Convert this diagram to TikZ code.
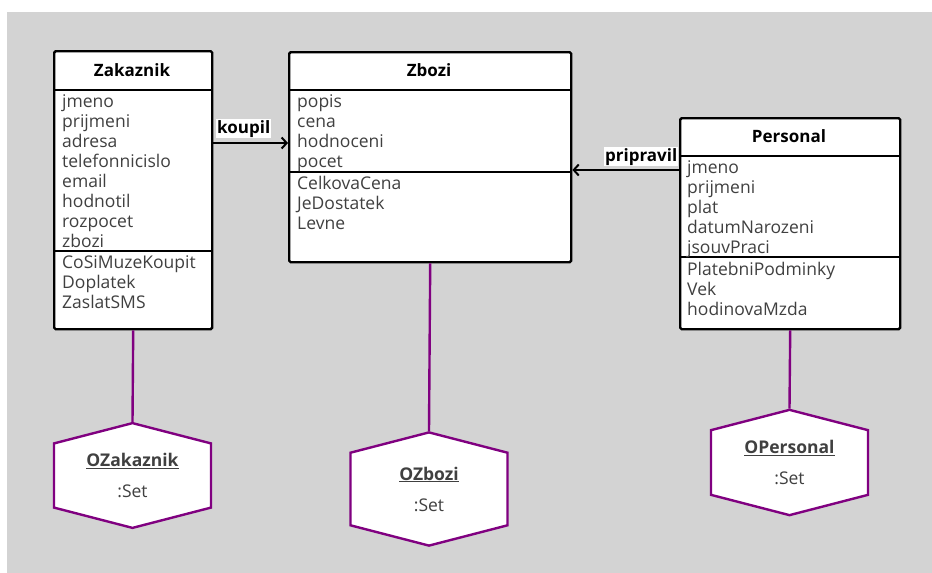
\documentclass[tikz,border=0pt]{standalone}
\usepackage{fontspec}
\setmainfont{Open Sans}
\usepackage{xcolor}
\usetikzlibrary{arrows.meta, calc, shapes.symbols}
\definecolor{bggray}{RGB}{211,211,211}
\definecolor{objpurple}{RGB}{128,0,128}
\definecolor{attrgray}{RGB}{64,64,64}

\begin{document}
\begin{tikzpicture}[x=1pt, y=-1pt,
    every node/.style={font=\fontsize{17.5}{20}\selectfont},
    cls/.style={draw, line width=2.4pt, fill=white, rounded corners=1.5pt,
                anchor=north west, inner sep=0pt},
    ttl/.style={font=\fontsize{17}{20}\selectfont\bfseries},
    attr/.style={anchor=base west, inner sep=0pt, text=attrgray},
    sep/.style={line width=2pt},
    obj/.style={signal, signal to=north and south, signal pointer angle=151,
                draw=objpurple, line width=2.4pt, fill=white,
                minimum width=157pt, minimum height=88pt, inner sep=0pt,
                align=center, text=attrgray},
    link/.style={objpurple, line width=2.4pt},
    assoc/.style={-{Straight Barb[length=5pt, width=11pt]}, line width=2pt},
    lbl/.style={fill=white, inner sep=0.8pt, font=\fontsize{17}{20}\selectfont\bfseries},
  ]
    \useasboundingbox (0,0) rectangle (932,573);
    \fill[bggray] (7,12) rectangle (932,573);
    \node[cls, minimum width=158pt, minimum height=278pt] (zak) at (53,50) {};
    \node[cls, minimum width=282pt, minimum height=210pt] (zbozi) at (288,51) {};
    \node[cls, minimum width=220pt, minimum height=211pt] (pers) at (679,117) {};
    \node[ttl] (zak-t) at (132,70) {Zakaznik};
    \node[ttl] (zbozi-t) at (429,70.5) {Zbozi};
    \node[ttl] (pers-t) at (789,136.5) {Personal};
    \foreach \n/\y in {zak/90, zak/251, zbozi/90, zbozi/172, pers/156, pers/257}
      \draw[sep] (\n.west |- 0,\y) -- (\n.east |- 0,\y);
    \foreach \t [count=\i] in {jmeno, prijmeni, adresa, telefonnicislo, email, hodnotil, rozpocet, zbozi}
      \node[attr] (zak-a\i) at (62, 87+20*\i) {\t};
    \foreach \t [count=\i] in {CoSiMuzeKoupit, Doplatek, ZaslatSMS}
      \node[attr] (zak-m\i) at (62, 248+20*\i) {\t};
    \foreach \t [count=\i] in {popis, cena, hodnoceni, pocet}
      \node[attr] (zbozi-a\i) at (297, 87+20*\i) {\t};
    \foreach \t [count=\i] in {CelkovaCena, JeDostatek, Levne}
      \node[attr] (zbozi-m\i) at (297, 169+20*\i) {\t};
    \foreach \t [count=\i] in {jmeno, prijmeni, plat, datumNarozeni, jsouvPraci}
      \node[attr] (pers-a\i) at (687, 153+20*\i) {\t};
    \foreach \t [count=\i] in {PlatebniPodminky, Vek, hodinovaMzda}
      \node[attr] (pers-m\i) at (687, 255+20*\i) {\t};
    \node[obj] (ozak) at (132.5,475.5) {\textbf{\underline{OZakaznik}}\\[11pt]:Set};
    \node[obj] (ozbozi) at (429,489) {\textbf{\underline{OZbozi}}\\[11pt]:Set};
    \node[obj] (opers) at (789.5,462.5) {\textbf{\underline{OPersonal}}\\[11pt]:Set};
    \draw[link] (zak.south) -- (ozak.north);
    \draw[link] (zbozi.south) -- (ozbozi.north);
    \draw[link] (pers.south) -- (opers.north);
    \coordinate (kp) at (0,143);
    \coordinate (pp) at (0,170);
    \draw[assoc] (zak.east |- kp) -- (zbozi.west |- kp)
      node[lbl, pos=0, anchor=south west, xshift=2pt, yshift=4pt] {koupil};
    \draw[assoc] (pers.west |- pp) -- (zbozi.east |- pp)
      node[lbl, pos=0, anchor=south east, yshift=3pt] {pripravil};
  \end{tikzpicture}
\end{document}
